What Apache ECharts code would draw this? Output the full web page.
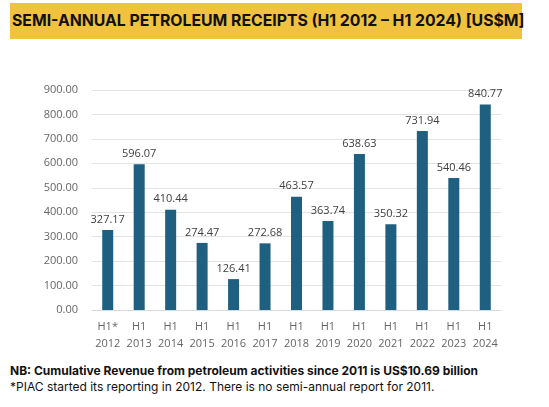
<!DOCTYPE html>
<html><head><meta charset="utf-8">
<script src="https://cdn.jsdelivr.net/npm/echarts@6/dist/echarts.min.js"></script>
<style>
body{margin:0;background:#fff;font-family:"Open Sans",sans-serif;}
#banner{position:absolute;left:10px;top:3px;width:510px;height:36px;background:#f0c23e;color:#111;font-weight:bold;font-size:15.8px;line-height:36px;padding-left:2px;white-space:nowrap;font-family:Inter,sans-serif;}
#chart{position:absolute;left:0;top:60px;width:549px;height:300px;}
#note{position:absolute;left:10px;top:363px;font-size:12px;color:#111;line-height:16px;font-family:Inter,sans-serif;}
</style></head><body>
<div id="banner">SEMI-ANNUAL PETROLEUM RECEIPTS (H1 2012 – H1 2024) [US$M]</div>
<div id="chart"></div>
<div id="note"><b>NB: Cumulative Revenue from petroleum activities since 2011 is US$10.69 billion</b><br>*PIAC started its reporting in 2012. There is no semi-annual report for 2011.</div>
<script>
var categories = ['H1*\n2012','H1\n2013','H1\n2014','H1\n2015','H1\n2016','H1\n2017','H1\n2018','H1\n2019','H1\n2020','H1\n2021','H1\n2022','H1\n2023','H1\n2024'];
var receipts = [327.17,596.07,410.44,274.47,126.41,272.68,463.57,363.74,638.63,350.32,731.94,540.46,840.77];
var myChart = echarts.init(document.getElementById('chart'));
myChart.setOption({
  animation:false,
  grid:{left:92,right:48,top:30,bottom:50},
  xAxis:{type:'category',data:categories,axisTick:{show:false},
    axisLine:{lineStyle:{color:'#d9d9d9'}},
    axisLabel:{interval:0,color:'#666',fontSize:11,lineHeight:17,margin:8,fontFamily:'Open Sans'}},
  yAxis:{type:'value',min:0,max:900,interval:100,
    axisLabel:{color:'#666',fontSize:11,margin:14,fontFamily:'Open Sans',formatter:function(v){return v.toFixed(2);}},
    splitLine:{lineStyle:{color:'#e3e3e3'}}},
  series:[{type:'bar',data:receipts,barWidth:11,itemStyle:{color:'#1f5f80'},
    label:{show:true,position:'top',color:'#404040',fontSize:11,fontFamily:'Open Sans',formatter:function(p){return p.value.toFixed(2);}}}]
});
</script></body></html>
